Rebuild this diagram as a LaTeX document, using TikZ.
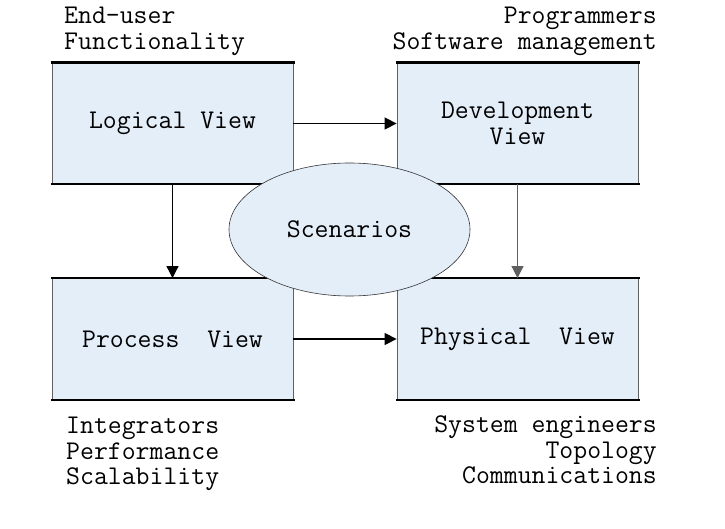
\documentclass[tikz,border=0pt]{standalone}
\definecolor{viewblue}{HTML}{E4EEF9}
\definecolor{edgegray}{HTML}{606060}
\usepackage{tikz}
\usetikzlibrary{arrows.meta, positioning, shapes.geometric}

\begin{document}
\begin{tikzpicture}[
    x=1pt, y=1pt,
    txt/.style={font=\fontsize{27}{25.5}\selectfont\ttfamily, inner sep=0pt},
    view/.style={txt, draw=edgegray, line width=0.8pt, fill=viewblue,
                 minimum width=241pt, minimum height=121pt, align=center},
    edge/.style={line width=2.2pt, line cap=rect},
    scen/.style={txt, ellipse, draw=black!80, line width=0.6pt, fill=viewblue,
                 minimum width=241pt, minimum height=133pt},
    arrow/.style={-{Triangle[length=12pt, width=12pt]}, line width=1.4pt},
    thin arrow/.style={arrow, line width=0.8pt},
    annot/.style={txt}
  ]
    \useasboundingbox (0,0) rectangle (725,528);

    % Views
    \node[view] (logical)     at (172.5,404.5) {Logical View};
    \node[view] (development) at (517.5,404.5) {Development\\View};
    \node[view] (process)     at (172.5,189)   {Process\ \ View};
    \node[view] (physical)    at (517.5,189)   {Physical\ \ View};
    \foreach \n in {logical,development,process,physical} {
      \draw[edge] (\n.north west) -- (\n.north east);
      \draw[edge] (\n.south west) -- (\n.south east);
    }

    % Scenarios
    \node[scen] (scenarios) at (349.5,298.5) {Scenarios};

    % Connections
    \draw[arrow] (logical) -- (development);
    \draw[arrow] (process) -- (physical);
    \draw[thin arrow] (logical) -- (process);
    \draw[thin arrow, draw=edgegray] (development) -- (physical);

    % Stakeholders and concerns
    \node[annot, anchor=west, align=left]   (users)      at (64,496.5)
      {End-user\\Functionality};
    \node[annot, anchor=east, align=right]  (programmers) at (657,496.5)
      {Programmers\\Software management};
    \node[annot, anchor=west, align=left]   (integrators) at (66,74)
      {Integrators\\Performance\\Scalability};
    \node[annot, anchor=east, align=right]  (engineers)  at (657,78)
      {System engineers\\Topology\\Communications};
  \end{tikzpicture}
\end{document}
